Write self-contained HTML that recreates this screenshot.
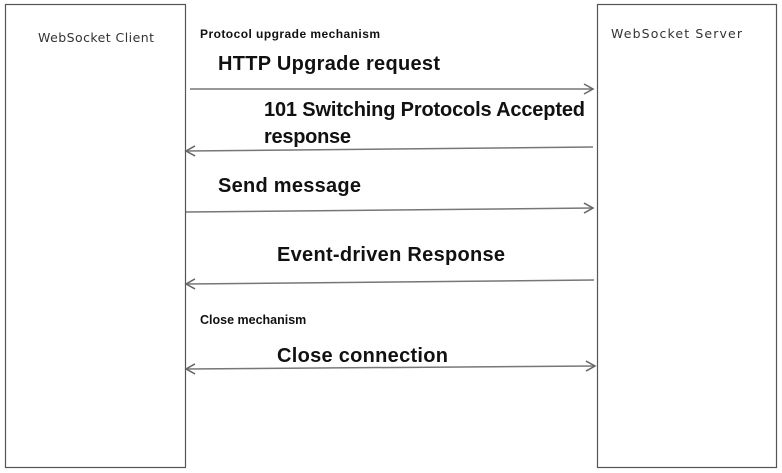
<!DOCTYPE html>
<html><head><style>html,body{margin:0;padding:0;background:#fff}svg{display:block}</style></head>
<body>
<svg width="782" height="473" viewBox="0 0 782 473" xmlns="http://www.w3.org/2000/svg">
<defs>
<marker id="a" markerWidth="12" markerHeight="12" refX="10" refY="6" orient="auto-start-reverse" markerUnits="userSpaceOnUse">
<path d="M1,1 L10,6 L1,11" fill="none" stroke="#666" stroke-width="1.5"/>
</marker>
</defs>
<rect x="5.5" y="4.5" width="180" height="463" fill="#fff" stroke="#555" stroke-width="1.2"/>
<rect x="597.5" y="4.5" width="179" height="463" fill="#fff" stroke="#555" stroke-width="1.2"/>
<g font-family="'DejaVu Sans', sans-serif" font-size="12.5" fill="#333">
<text x="38" y="42" textLength="116">WebSocket Client</text>
<text x="611" y="38" textLength="131">WebSocket Server</text>
</g>
<g stroke="#777" stroke-width="1.5" fill="none">
<line x1="190" y1="89" x2="593" y2="89" marker-end="url(#a)"/>
<line x1="593" y1="147" x2="186" y2="151" marker-end="url(#a)"/>
<line x1="186" y1="212" x2="593" y2="208" marker-end="url(#a)"/>
<line x1="594" y1="280" x2="186" y2="284" marker-end="url(#a)"/>
<line x1="186" y1="369" x2="595" y2="366" marker-start="url(#a)" marker-end="url(#a)"/>
</g>
<g font-family="'Liberation Sans', Arial, sans-serif" font-weight="bold" fill="#111">
<text x="200" y="38" font-size="12" textLength="180">Protocol upgrade mechanism</text>
<text x="200" y="324" font-size="12.5">Close mechanism</text>
<g font-size="20">
<text x="218" y="70" textLength="222">HTTP Upgrade request</text>
<text x="264" y="116" textLength="321">101 Switching Protocols Accepted</text>
<text x="264" y="143" textLength="87">response</text>
<text x="218" y="192" textLength="143">Send message</text>
<text x="277" y="261" textLength="228">Event-driven Response</text>
<text x="277" y="362" textLength="171">Close connection</text>
</g>
</g>
</svg>
</body></html>
